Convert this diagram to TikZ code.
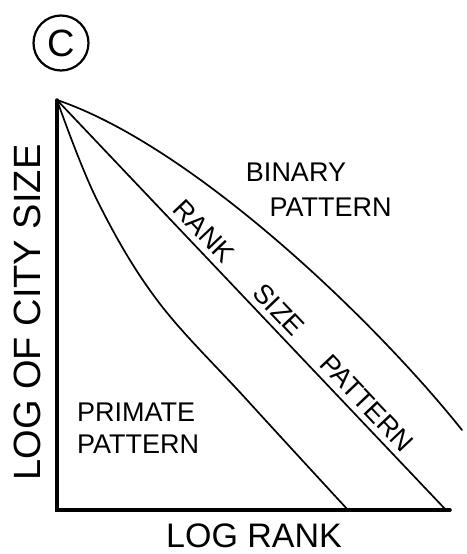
\documentclass[tikz,border=0pt]{standalone}
\usepackage{fontspec}
\setmainfont{Liberation Sans}
\begin{document}
\begin{tikzpicture}[x=1pt,y=-1pt,
  axisline/.style={line width=3.5pt,line cap=round,line join=miter},
  curveline/.style={line width=1.7pt,line cap=round},
  lbl/.style={inner sep=0pt,font=\fontsize{27}{30}\selectfont},
  slbl/.style={inner sep=0pt,font=\fontsize{27}{30}\selectfont,rotate=-46.5,anchor=south}]
\useasboundingbox (0,0) rectangle (466,554);
% panel mark
\node[circle,draw,line width=2.2pt,minimum size=55pt,inner sep=0pt,
      font=\fontsize{38}{40}\selectfont] (mark) at (61,43) {C};
% axes
\coordinate (apex) at (57,100);
\coordinate (orig) at (57,510);
\coordinate (xend) at (450,510);
\draw[axisline] (apex) -- (orig) -- (xend);
% curves
\coordinate (pend) at (348,510);
\coordinate (rend) at (446,510);
\coordinate (bend) at (462,430);
\draw[curveline] plot[smooth,tension=0.6] coordinates {(57,100) (97,200) (157,300) (247,400) (348,510)};
\draw[curveline] (apex) -- (rend);
\draw[curveline] (apex) .. controls (190,145) and (370,315) .. (bend);
% labels
\node[lbl] (bin1) at (296,172.5) {BINARY};
\node[lbl] (bin2) at (330.5,207.5) {PATTERN};
\node[lbl,anchor=west] (pri1) at (77,412.5) {PRIMATE};
\node[lbl,anchor=west] (pri2) at (77,444.5) {PATTERN};
\node[slbl] (rs1) at (196.9,237.4) {RANK};
\node[slbl] (rs2) at (271.9,316.6) {SIZE};
\node[slbl] (rs3) at (360,409.5) {PATTERN};
\node[inner sep=0pt,font=\fontsize{34}{36}\selectfont] (xlab) at (254,535.5) {LOG RANK};
\node[inner sep=0pt,rotate=90,font=\fontsize{38}{40}\selectfont] (ylab) at (27.5,312.5) {LOG OF CITY SIZE};
\end{tikzpicture}
\end{document}
